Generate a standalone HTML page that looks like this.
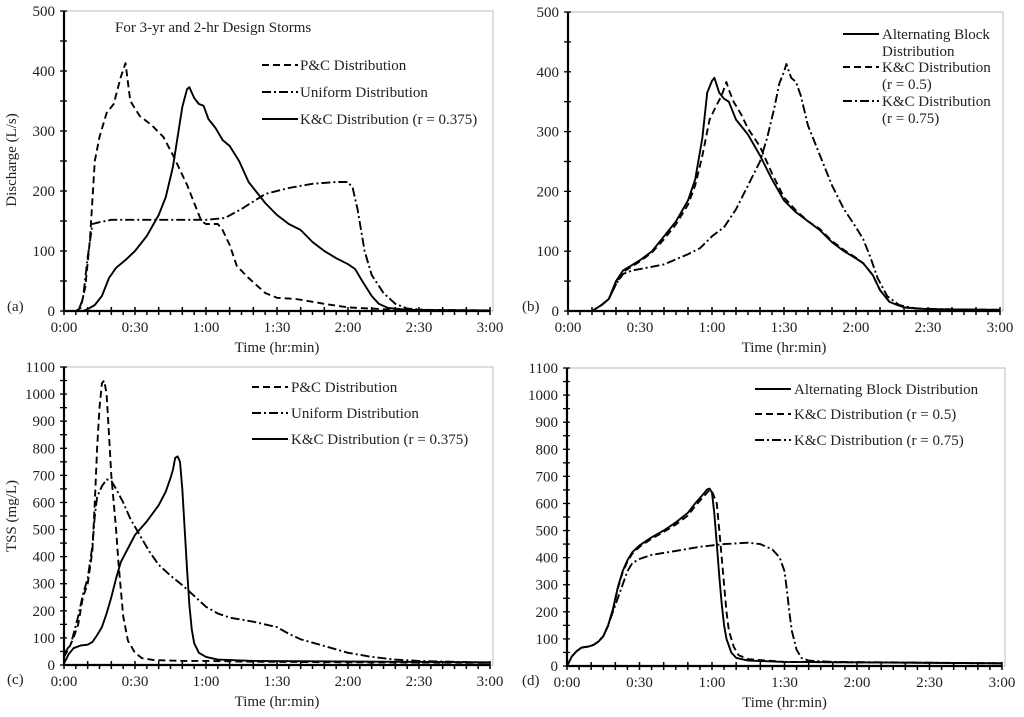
<!DOCTYPE html>
<html><head><meta charset="utf-8">
<style>
html,body{margin:0;padding:0;background:#fff;}
svg{display:block;font-family:"Liberation Serif",serif;}
</style></head>
<body>
<svg id="chart" width="1024" height="717" viewBox="0 0 1024 717" xmlns="http://www.w3.org/2000/svg"></svg>
<script>
// ---- data (time in minutes, values) ----
const aPCt=[0,5,7,9,11,13,15,18,21,24,26,28,32,37,42,46,52,55,58,60,65,67,70,73,78,85,90,98,110,120,135,150,180];
const aPCv=[0,0,5,40,120,250,290,330,345,390,413,350,325,310,290,260,210,180,150,145,145,135,110,75,55,30,22,20,12,6,3,2,1];
const aUt=[0,6,8,10,12,15,20,40,60,68,75,85,95,105,115,120,122,124,127,130,135,140,145,155,180];
const aUv=[0,0,20,90,145,148,152,152,152,155,170,195,205,212,215,215,205,170,100,60,30,12,4,1,0];
const aKCt=[0,8,10,13,16,19,22,26,30,35,40,43,46,48,50,52,53,55,57,59,61,64,67,70,74,78,85,90,95,100,105,110,115,120,123,126,130,133,137,145,180];
const aKCv=[0,0,3,10,25,55,72,85,100,125,160,190,240,290,340,370,373,355,345,342,320,305,285,275,250,215,180,160,145,135,115,100,88,78,70,50,25,12,5,2,1];

const bABt=[0,10,14,17,20,23,26,30,35,40,45,50,53,56,58,60,61,63,65,67,70,75,80,85,90,95,100,105,110,115,120,123,127,130,134,140,150,180];
const bABv=[0,0,10,20,50,68,75,85,100,125,150,185,220,290,365,385,390,365,355,350,320,295,260,220,185,165,150,135,115,100,88,80,60,35,15,6,3,2];
const bK5t=[0,10,14,17,20,23,26,30,35,40,45,50,53,56,59,62,64,66,67,69,72,75,80,85,90,95,100,105,110,115,120,123,127,130,134,140,150,180];
const bK5v=[0,0,10,20,45,65,73,83,98,120,145,178,210,260,320,345,360,383,370,350,330,305,275,230,190,168,150,137,117,102,89,80,60,35,15,6,3,2];
const bK75t=[0,10,14,17,20,23,27,30,40,50,55,60,65,70,75,80,83,86,88,90,91,93,95,97,100,105,110,115,120,123,126,129,133,138,145,180];
const bK75v=[0,0,10,20,45,62,68,70,78,95,105,125,140,170,210,250,290,340,380,400,413,390,383,360,310,260,210,170,140,120,90,55,25,10,4,1];

const cPCt=[0,2,4,6,8,10,12,13,14,15,16,17,18,19,20,21,22,23,24,25,27,30,33,38,50,60,80,120,180];
const cPCv=[30,60,100,150,250,300,420,600,800,950,1040,1050,1000,850,700,600,500,380,280,180,90,45,25,18,15,15,12,10,8];
const cUt=[0,3,6,8,10,12,13,14,16,18,20,22,25,28,32,36,40,45,50,55,60,65,70,80,90,95,100,110,120,130,140,150,180];
const cUv=[40,80,180,260,320,440,550,620,660,685,680,650,600,540,480,420,370,330,295,255,215,190,175,160,140,115,95,70,45,30,20,15,8];
const cKCt=[0,2,4,7,10,12,14,16,18,20,22,24,27,30,35,40,43,45,46,47,48,49,50,51,52,53,54,55,57,60,65,80,180];
const cKCv=[5,40,62,72,75,85,110,140,190,250,320,380,430,480,530,590,640,690,720,765,770,750,650,500,350,220,130,80,45,30,20,15,10];

const dABt=[0,2,4,6,9,11,13,15,17,19,21,23,25,27,30,35,40,45,50,53,56,58,59,60,61,62,63,64,65,66,68,70,75,90,180];
const dABv=[0,35,55,68,72,78,90,110,150,210,290,350,390,420,445,475,500,530,565,600,630,652,655,640,560,450,330,230,150,100,50,30,20,15,10];
const dK5t=[0,2,4,6,9,11,13,15,17,19,21,23,25,27,30,35,40,45,50,53,56,59,60,62,63,64,65,66,67,69,71,75,90,180];
const dK5v=[0,35,55,68,72,78,90,110,148,205,285,345,385,415,440,470,495,522,555,590,620,650,645,600,500,400,300,200,130,70,40,25,15,10];
const dK75t=[0,2,4,6,9,11,13,15,17,19,21,23,25,27,30,35,45,55,60,65,75,80,85,88,90,91,92,93,95,97,100,110,180];
const dK75v=[0,35,55,68,72,78,90,110,150,200,250,300,350,380,395,410,425,440,445,450,455,450,430,400,350,280,200,130,60,30,20,15,10];

const xTickLabels=["0:00","0:30","1:00","1:30","2:00","2:30","3:00"];
const yTicksQ=[0,100,200,300,400,500];
const yTicksT=[0,100,200,300,400,500,600,700,800,900,1000,1100];

const NS="http://www.w3.org/2000/svg";
const svg=document.getElementById('chart');
function mk(tag,attrs,parent){const e=document.createElementNS(NS,tag);for(const k in attrs)e.setAttribute(k,attrs[k]);(parent||svg).appendChild(e);return e;}

const DASH="7,4", DASHDOT="9,3,2,3";
const FS=15;

function panel(id,x0,x1,y0,yTop,ymax,yTicks,minorStep,series,letter){
  const g=mk('g',{});
  
  
  const sx=t=>x0+(x1-x0)*t/180;
  const sy=v=>y0-(y0-yTop)*v/ymax;
  const fr=mk('rect',{x:x0,y:yTop,width:x1-x0+3,height:y0-yTop,fill:'none',stroke:'#bbb','stroke-width':1},g);
  
  
  series.forEach(s=>{
    let d='';
    s.t.forEach((t,i)=>{d+=(i?'L':'M')+sx(t).toFixed(1)+','+sy(s.v[i]).toFixed(1);});
    const p=mk('path',{d:d,fill:'none',stroke:'#000','stroke-width':1.9,'stroke-linejoin':'round'},g);
    if(s.dash)p.setAttribute('stroke-dasharray',s.dash);
    
    
  });
  const ax=mk('path',{d:`M${x0},${yTop}L${x0},${y0}L${x1},${y0}`,fill:'none',stroke:'#000','stroke-width':2.2},g);
  
  
  for(let m=0;m<=180;m+=5){
    const big=m%10===0;
    mk('line',{x1:sx(m),x2:sx(m),y1:y0-(big?4:0),y2:y0+4,stroke:'#000','stroke-width':1.5},g);
  }
  xTickLabels.forEach((lab,i)=>{
    const t=mk('text',{x:sx(i*30),y:y0+21,'text-anchor':'middle','font-size':FS,fill:'#222'},g);
    t.textContent=lab;
    
    
  });
  const xt=mk('text',{x:(x0+x1)/2,y:y0+41,'text-anchor':'middle','font-size':FS,fill:'#222'},g);
  xt.textContent='Time (hr:min)';
  
  
  for(let v=0;v<=ymax;v+=minorStep){
    mk('line',{x1:x0-4,x2:x0+3,y1:sy(v),y2:sy(v),stroke:'#000','stroke-width':1.3},g);
  }
  yTicks.forEach(v=>{
    const t=mk('text',{x:x0-9,y:sy(v)+5,'text-anchor':'end','font-size':FS,fill:'#222'},g);
    t.textContent=v;
    
    
  });
  const pl=mk('text',{x:letter[1],y:y0+(letter[2]||0),'font-size':FS,fill:'#222'},g);
  pl.textContent=letter[0];
  
  
  return g;
}
function legend(rows){
  rows.forEach(r=>{
    if(r.dash!==undefined){
      const l=mk('line',{x1:r.lx,x2:r.lx+36,y1:r.y-5,y2:r.y-5,stroke:'#000','stroke-width':1.9});
      if(r.dash)l.setAttribute('stroke-dasharray',r.dash);
      
      
    }
    const t=mk('text',{x:r.tx,y:r.y,'font-size':FS,fill:'#222'});
    t.textContent=r.text;
    
    
  });
}

panel('a',64,490,311,11,500,yTicksQ,50,[
  {t:aUt,v:aUv,dash:DASHDOT,name:'uniform-line'},
  {t:aPCt,v:aPCv,dash:DASH,name:'pc-line'},
  {t:aKCt,v:aKCv,dash:null,name:'kc-0375-line'}],['(a)',7,0]);
panel('b',568,1000,311,12,500,yTicksQ,50,[
  {t:bK75t,v:bK75v,dash:DASHDOT,name:'kc-075-line'},
  {t:bK5t,v:bK5v,dash:DASH,name:'kc-05-line'},
  {t:bABt,v:bABv,dash:null,name:'alternating-block-line'}],['(b)',522,0]);
panel('c',64,490,665,367,1100,yTicksT,50,[
  {t:cUt,v:cUv,dash:DASHDOT,name:'uniform-line'},
  {t:cPCt,v:cPCv,dash:DASH,name:'pc-line'},
  {t:cKCt,v:cKCv,dash:null,name:'kc-0375-line'}],['(c)',7,19]);
panel('d',567,1002,666,368,1100,yTicksT,50,[
  {t:dK75t,v:dK75v,dash:DASHDOT,name:'kc-075-line'},
  {t:dK5t,v:dK5v,dash:DASH,name:'kc-05-line'},
  {t:dABt,v:dABv,dash:null,name:'alternating-block-line'}],['(d)',522,19]);

const tt=mk('text',{x:115,y:32,'font-size':FS,fill:'#222'});
tt.textContent='For 3-yr and 2-hr Design Storms';


const ya=mk('text',{x:0,y:0,'font-size':FS,fill:'#222','text-anchor':'middle',transform:'translate(16,160) rotate(-90)'});
ya.textContent='Discharge (L/s)';


const yc=mk('text',{x:0,y:0,'font-size':FS,fill:'#222','text-anchor':'middle',transform:'translate(16,516) rotate(-90)'});
yc.textContent='TSS (mg/L)';



legend([
  {lx:262,tx:300,y:70,dash:DASH,text:'P&C Distribution'},
  {lx:262,tx:300,y:97,dash:DASHDOT,text:'Uniform Distribution'},
  {lx:262,tx:300,y:124,dash:'',text:'K&C Distribution (r = 0.375)'},
  {lx:843,tx:882,y:39,dash:'',text:'Alternating Block'},
  {tx:882,y:56,text:'Distribution'},
  {lx:843,tx:882,y:72,dash:DASH,text:'K&C Distribution'},
  {tx:882,y:89,text:'(r = 0.5)'},
  {lx:843,tx:882,y:106,dash:DASHDOT,text:'K&C Distribution'},
  {tx:882,y:123,text:'(r = 0.75)'},
  {lx:252,tx:291,y:392,dash:DASH,text:'P&C Distribution'},
  {lx:252,tx:291,y:418,dash:DASHDOT,text:'Uniform Distribution'},
  {lx:252,tx:291,y:444,dash:'',text:'K&C Distribution (r = 0.375)'},
  {lx:755,tx:794,y:394,dash:'',text:'Alternating Block Distribution'},
  {lx:755,tx:794,y:419,dash:DASH,text:'K&C Distribution (r = 0.5)'},
  {lx:755,tx:794,y:445,dash:DASHDOT,text:'K&C Distribution (r = 0.75)'}
]);
</script>
</body></html>
